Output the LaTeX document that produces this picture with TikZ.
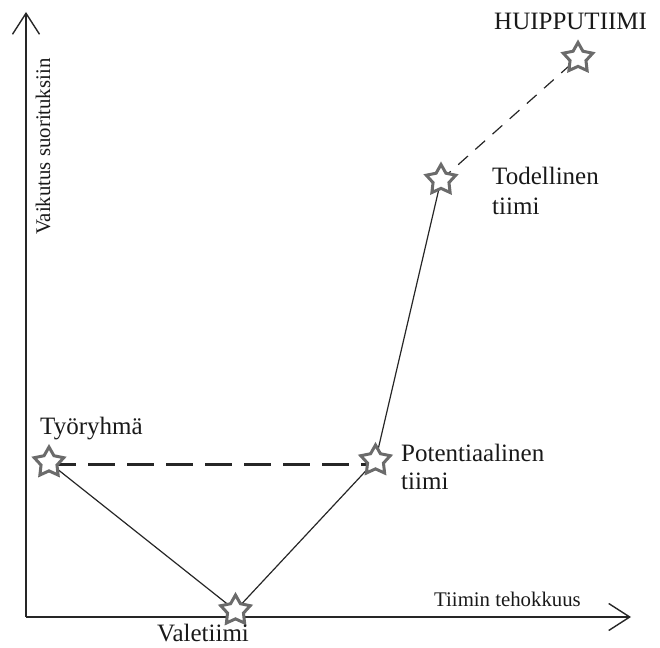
\documentclass[tikz,border=0pt]{standalone}
\usepackage{fontspec}
\setmainfont{Liberation Serif}
\usetikzlibrary{shapes.geometric,arrows.meta}
\tikzset{
  axis/.style={line width=2pt, draw=black!85, -{Straight Barb[length=21pt,width=27pt,line width=1.4pt]}},
  starnode/.style={star, star points=5, star point ratio=1.85, minimum size=31pt, inner sep=0pt,
     draw=black!58, line width=3pt, fill=white},
  thinline/.style={line width=1.2pt, draw=black!85},
  thickdash/.style={line width=3pt, draw=black!85, dash pattern=on 27pt off 12pt},
  thindash/.style={line width=1.2pt, draw=black!85, dash pattern=on 13pt off 10pt},
  lbl/.style={font=\fontsize{25}{28}\selectfont, inner sep=0pt, text=black!90},
  axlbl/.style={font=\fontsize{20.8}{24}\selectfont, inner sep=0pt, text=black!90}
}
\begin{document}
\begin{tikzpicture}[x=1pt,y=1pt]
\useasboundingbox (0,0) rectangle (660,647);
% axes
\coordinate (o) at (26,30);
\coordinate (ytip) at (26,635);
\coordinate (xtip) at (631,30);
\draw[axis] (o) -- (ytip);
\draw[axis] (o) -- (xtip);
% star positions
\coordinate (ty) at (49,184.5);
\coordinate (va) at (235.5,36.5);
\coordinate (po) at (375.5,186.5);
\coordinate (to) at (441,467);
\coordinate (hu) at (578,589);
% connectors
\draw[thinline] (ty) -- (va);
\draw[thinline] (va) -- (po);
\draw[thinline] (po) -- (to);
\coordinate (dl) at (49,182);
\coordinate (dr) at (375.5,182);
\draw[thickdash] (dl) -- (dr);
\draw[thindash] (to) -- (hu);
% stars
\node[starnode] (sty) at (ty) {};
\node[starnode] (sva) at (va) {};
\node[starnode] (spo) at (po) {};
\node[starnode] (sto) at (to) {};
\node[starnode] (shu) at (hu) {};
% labels
\node[lbl, anchor=base west] (l1) at (40,212) {Työryhmä};
\node[lbl, anchor=base west] (l2) at (157,5.3) {Valetiimi};
\node[lbl, anchor=base west] (l3) at (401,185) {Potentiaalinen};
\node[lbl, anchor=base west] (l3b) at (401,157) {tiimi};
\node[lbl, anchor=base west] (l4) at (492,462) {Todellinen};
\node[lbl, anchor=base west] (l4b) at (492,432) {tiimi};
\node[lbl, anchor=base west] (l5) at (494,617) {HUIPPUTIIMI};
\node[axlbl, anchor=base west] (xl) at (434,40.3) {Tiimin tehokkuus};
\node[axlbl, anchor=base west, rotate=90] (yl) at (50,412) {Vaikutus suorituksiin};
\end{tikzpicture}
\end{document}
